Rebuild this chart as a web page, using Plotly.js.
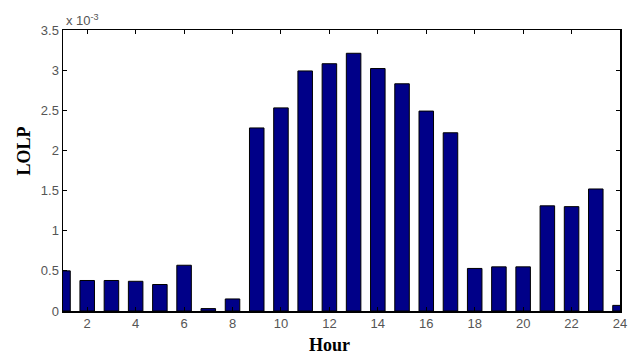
<!DOCTYPE html>
<html>
<head>
<meta charset="utf-8">
<script src="https://cdn.plot.ly/plotly-3.0.1.min.js"></script>
<style>html,body{margin:0;padding:0;background:#fff;}#chart{width:634px;height:354px;}</style>
</head>
<body>
<div id="chart"></div>
<script>
// Hours of the day
const hours = [1,2,3,4,5,6,7,8,9,10,11,12,13,14,15,16,17,18,19,20,21,22,23,24];
// LOLP values in units of 10^-3
const lolp = [0.50,0.38,0.38,0.37,0.33,0.57,0.03,0.15,2.28,2.53,2.99,3.08,3.21,3.02,2.83,2.49,2.22,0.53,0.55,0.55,1.31,1.30,1.52,0.07];
const xTicks = [2,4,6,8,10,12,14,16,18,20,22,24];
const yTicks = [0,0.5,1,1.5,2,2.5,3,3.5];
const yTickText = ['0','0.5','1','1.5','2','2.5','3','3.5'];

const trace = {
  type: 'bar',
  x: hours,
  y: lolp,
  marker: {color: '#000088', line: {color: '#000000', width: 1}},
  hoverinfo: 'x+y'
};

const tickFont = {family: 'Liberation Sans, Arial, sans-serif', size: 13, color: '#555555'};
const titleFont = {family: 'Liberation Serif, Times New Roman, serif', size: 18, color: '#000'};
const layout = {
  width: 634, height: 354,
  margin: {l: 63, r: 14, t: 30, b: 43},
  paper_bgcolor: '#ffffff', plot_bgcolor: '#ffffff',
  showlegend: false,
  bargap: 0.4,
  xaxis: {
    range: [1, 24], tickvals: xTicks, ticktext: xTicks.map(String),
    ticks: 'inside', ticklen: 4, tickcolor: '#000', tickwidth: 1,
    showline: true, linecolor: '#000', linewidth: 1.5, mirror: 'ticks',
    showgrid: false, zeroline: false, tickfont: tickFont
  },
  yaxis: {
    range: [0, 3.5], tickvals: yTicks, ticktext: yTickText,
    ticks: 'inside', ticklen: 4, tickcolor: '#000', tickwidth: 1,
    showline: true, linecolor: '#000', linewidth: 1.5, mirror: 'ticks',
    showgrid: false, zeroline: false, tickfont: tickFont
  },
  annotations: [
    {
      xref: 'paper', yref: 'paper', x: 0, y: 1, xanchor: 'left', yanchor: 'bottom',
      xshift: 1, yshift: 0,
      text: 'x 10<sup>-3</sup>', showarrow: false,
      font: {family: 'Liberation Sans, Arial, sans-serif', size: 13, color: '#555555'}
    },
    {
      xref: 'paper', yref: 'paper', x: 0.5, y: 0, xanchor: 'center', yanchor: 'middle',
      xshift: -12, yshift: -34,
      text: '<b>Hour</b>', showarrow: false, font: titleFont
    },
    {
      xref: 'paper', yref: 'paper', x: 0, y: 0.5, xanchor: 'center', yanchor: 'middle',
      xshift: -40, yshift: 19, textangle: -90,
      text: '<b>LOLP</b>', showarrow: false, font: titleFont
    }
  ]
};

Plotly.newPlot('chart', [trace], layout, {displayModeBar: false, staticPlot: true});
</script>
</body>
</html>
